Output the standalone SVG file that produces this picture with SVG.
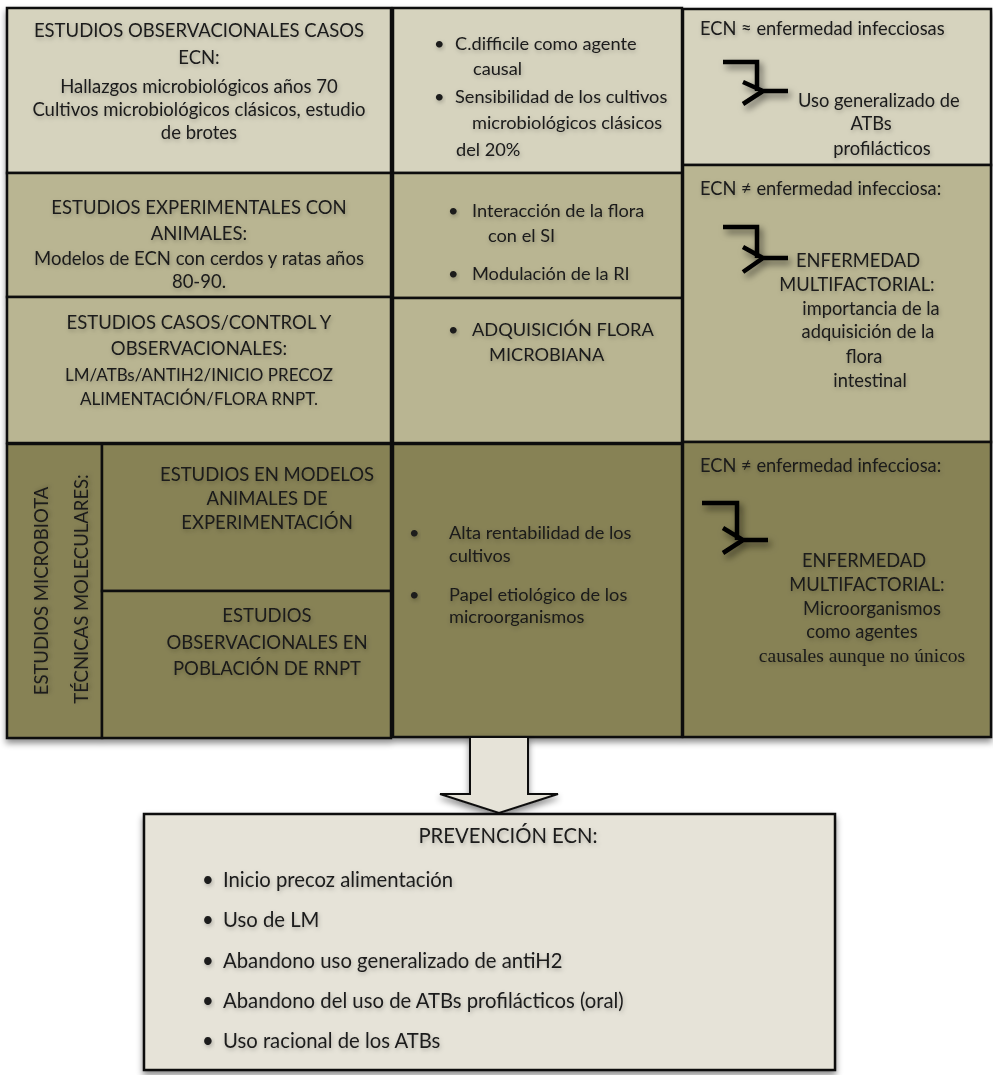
<svg xmlns="http://www.w3.org/2000/svg" width="993" height="1075" viewBox="0 0 993 1075">
<defs>
<style>
.cell{stroke:#111;stroke-width:2.5}
.l{fill:#d6d3be}
.m{fill:#b9b592}
.d{fill:#878255}
.t{font-family:Lato,"Liberation Sans",sans-serif;fill:#1a1a1a;filter:url(#ts)}
.h{font-size:18.5px;text-anchor:middle}
.b{font-size:18.2px}
.r{font-size:18.3px}
.p{font-size:20.3px}
.sym{fill:none;stroke:#000;stroke-width:4.5;filter:url(#ss)}
</style>
<filter id="ts" x="-10%" y="-40%" width="120%" height="180%">
<feDropShadow dx="1" dy="2" stdDeviation="2.2" flood-color="#000" flood-opacity="0.25"/>
</filter>
<filter id="ss" x="-30%" y="-30%" width="160%" height="160%">
<feDropShadow dx="3" dy="4" stdDeviation="3.5" flood-color="#000" flood-opacity="0.55"/>
</filter>
<filter id="gs" x="-5%" y="-5%" width="110%" height="110%">
<feDropShadow dx="0" dy="4" stdDeviation="3" flood-color="#000" flood-opacity="0.45"/>
</filter>
</defs>
<rect width="993" height="1075" fill="#fff"/>

<g id="grid" filter="url(#gs)">
<g id="cell-obs">
<rect class="cell l" x="7" y="8" width="384" height="165"/>
<text class="t h" x="199" y="37">ESTUDIOS OBSERVACIONALES  CASOS</text>
<text class="t h" x="199" y="64">ECN:</text>
<text class="t h" x="199" y="93">Hallazgos microbiológicos años 70</text>
<text class="t h" x="199" y="116">Cultivos microbiológicos clásicos, estudio</text>
<text class="t h" x="199" y="139">de brotes</text>
</g>
<g id="cell-exp">
<rect class="cell m" x="7" y="173" width="384" height="124"/>
<text class="t h" x="199" y="214">ESTUDIOS EXPERIMENTALES CON</text>
<text class="t h" x="199" y="240">ANIMALES:</text>
<text class="t h" x="199" y="265">Modelos de ECN con cerdos y ratas años</text>
<text class="t h" x="199" y="288">80-90.</text>
</g>
<g id="cell-casos">
<rect class="cell m" x="7" y="297" width="384" height="146"/>
<text class="t h" x="199" y="329">ESTUDIOS CASOS/CONTROL Y</text>
<text class="t h" x="199" y="355">OBSERVACIONALES:</text>
<text class="t h" x="199" y="381" style="font-size:17px">LM/ATBs/ANTIH2/INICIO PRECOZ</text>
<text class="t h" x="199" y="405" style="font-size:17px">ALIMENTACIÓN/FLORA RNPT.</text>
</g>
<g id="cell-micro">
<rect class="cell d" x="7" y="444" width="95" height="294"/>
<text class="t h" transform="translate(48,591) rotate(-90)" x="0" y="0">ESTUDIOS MICROBIOTA</text>
<text class="t h" transform="translate(88,589) rotate(-90)" x="0" y="0">TÉCNICAS MOLECULARES:</text>
</g>
<g id="cell-modelos">
<rect class="cell d" x="102" y="444" width="289" height="147"/>
<text class="t h" x="267" y="481">ESTUDIOS EN MODELOS</text>
<text class="t h" x="267" y="505">ANIMALES DE</text>
<text class="t h" x="267" y="529">EXPERIMENTACIÓN</text>
</g>
<g id="cell-poblacion">
<rect class="cell d" x="102" y="591" width="289" height="147"/>
<text class="t h" x="267" y="622">ESTUDIOS</text>
<text class="t h" x="267" y="649">OBSERVACIONALES EN</text>
<text class="t h" x="267" y="675">POBLACIÓN DE RNPT</text>
</g>

<g id="mid-1">
<rect class="cell l" x="393" y="8" width="289" height="165"/>
<text class="t b" x="434" y="50">•</text>
<text class="t b" x="455" y="50">C.difficile como agente</text>
<text class="t b" x="473" y="75">causal</text>
<text class="t b" x="434" y="103">•</text>
<text class="t b" x="455" y="103">Sensibilidad de los cultivos</text>
<text class="t b" x="472" y="129">microbiológicos clásicos</text>
<text class="t b" x="456" y="156">del 20%</text>
</g>
<g id="mid-2">
<rect class="cell m" x="393" y="173" width="289" height="125"/>
<text class="t b" x="448" y="217">•</text>
<text class="t b" x="472" y="217">Interacción de la flora</text>
<text class="t b" x="488" y="242">con el SI</text>
<text class="t b" x="448" y="280">•</text>
<text class="t b" x="472" y="280">Modulación de la RI</text>
</g>
<g id="mid-3">
<rect class="cell m" x="393" y="298" width="289" height="145"/>
<text class="t b" x="448" y="336">•</text>
<text class="t b" x="472" y="336">ADQUISICIÓN FLORA</text>
<text class="t b" x="489" y="361">MICROBIANA</text>
</g>
<g id="mid-4">
<rect class="cell d" x="393" y="444" width="289" height="293"/>
<text class="t b" x="409" y="539">•</text>
<text class="t b" x="449" y="539">Alta rentabilidad de los</text>
<text class="t b" x="449" y="562">cultivos</text>
<text class="t b" x="409" y="601">•</text>
<text class="t b" x="449" y="601">Papel etiológico de los</text>
<text class="t b" x="449" y="623">microorganismos</text>
</g>

<g id="right-1">
<rect class="cell l" x="683" y="9" width="308" height="156"/>
<text class="t r" x="700" y="35">ECN ≈ enfermedad infecciosas</text>
<path class="sym" d="M723,62 H757 V91 M743,82 L763,91 L743,104 M763,91 H788"/>
<text class="t r" x="798" y="107">Uso generalizado  de</text>
<text class="t r" x="871" y="130" text-anchor="middle">ATBs</text>
<text class="t r" x="882" y="155" text-anchor="middle">profilácticos</text>
</g>
<g id="right-2">
<rect class="cell m" x="683" y="165" width="308" height="277"/>
<text class="t r" x="700" y="195">ECN ≠ enfermedad infecciosa:</text>
<path class="sym" d="M723,227 H757 V258 M743,247 L763,258 L743,272 M763,258 H788"/>
<text class="t r" x="858" y="267" text-anchor="middle">ENFERMEDAD</text>
<text class="t r" x="857" y="291" text-anchor="middle">MULTIFACTORIAL:</text>
<text class="t r" x="871" y="315" text-anchor="middle">importancia de la</text>
<text class="t r" x="868" y="338" text-anchor="middle">adquisición de la</text>
<text class="t r" x="864" y="363" text-anchor="middle">flora</text>
<text class="t r" x="870" y="387" text-anchor="middle">intestinal</text>
</g>
<g id="right-3">
<rect class="cell d" x="683" y="442" width="308" height="295"/>
<text class="t r" x="700" y="472">ECN ≠ enfermedad infecciosa:</text>
<path class="sym" d="M702,503 H737 V540 M723,528 L743,540 L723,553 M743,540 H768"/>
<text class="t r" x="864" y="567" text-anchor="middle">ENFERMEDAD</text>
<text class="t r" x="867" y="591" text-anchor="middle">MULTIFACTORIAL:</text>
<text class="t r" x="872" y="615" text-anchor="middle">Microorganismos</text>
<text class="t r" x="862" y="638" text-anchor="middle">como agentes</text>
<text class="t" x="862" y="662" text-anchor="middle" style="font-family:'Liberation Serif',serif;font-size:19.5px">causales aunque no únicos</text>
</g>
</g>

<g id="connectors">
<path d="M470,737 H528 V794 H558 L499,813 L440,794 H470 Z" fill="#e6e3d8" stroke="#111" stroke-width="2" filter="url(#gs)"/>
</g>

<g id="prevencion">
<rect x="144" y="814" width="691" height="256" fill="#e6e3d8" stroke="#111" stroke-width="2.5" filter="url(#gs)"/>
<text class="t p" x="508" y="843" text-anchor="middle">PREVENCIÓN ECN:</text>
<text class="t p" x="202" y="887">•</text>
<text class="t p" x="223" y="887">Inicio precoz alimentación</text>
<text class="t p" x="202" y="927">•</text>
<text class="t p" x="223" y="927">Uso de LM</text>
<text class="t p" x="202" y="968">•</text>
<text class="t p" x="223" y="968">Abandono uso generalizado de antiH2</text>
<text class="t p" x="202" y="1008">•</text>
<text class="t p" x="223" y="1008">Abandono del uso de ATBs profilácticos (oral)</text>
<text class="t p" x="202" y="1048">•</text>
<text class="t p" x="223" y="1048">Uso racional de los ATBs</text>
</g>
</svg>
